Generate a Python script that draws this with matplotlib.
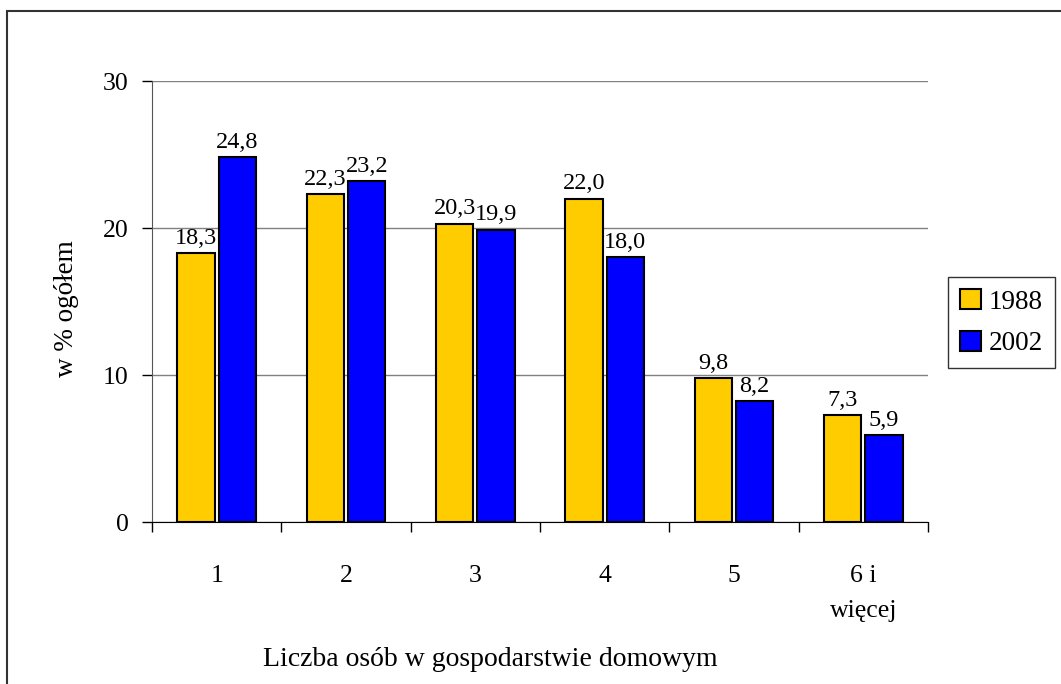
import matplotlib
matplotlib.use("Agg")
import matplotlib.pyplot as plt
import numpy as np
from matplotlib.patches import Rectangle

categories = ['1', '2', '3', '4', '5', '6 i\nwięcej']
y1988 = [18.3, 22.3, 20.3, 22.0, 9.8, 7.3]
y2002 = [24.8, 23.2, 19.9, 18.0, 8.2, 5.9]
labels1988 = ['18,3', '22,3', '20,3', '22,0', '9,8', '7,3']
labels2002 = ['24,8', '23,2', '19,9', '18,0', '8,2', '5,9']

plt.rcParams['font.family'] = ['Liberation Serif', 'DejaVu Serif']
fs = 18.5

fig = plt.figure(figsize=(10.61, 6.84), dpi=100)
ax = fig.add_axes([0.1433, 0.2368, 0.7313, 0.6447])

x = np.arange(len(categories))
w = 0.29
b1 = ax.bar(x - 0.16, y1988, w, color='#FFCC00', edgecolor='black', linewidth=1.5, label='1988', zorder=3)
b2 = ax.bar(x + 0.16, y2002, w, color='#0000FF', edgecolor='black', linewidth=1.5, label='2002', zorder=3)

# etykiety wartości nad słupkami
for rect, t in zip(b1, labels1988):
    ax.annotate(t, (rect.get_x() + rect.get_width() / 2, rect.get_height()),
                xytext=(0, 3), textcoords='offset points', ha='center', va='bottom', fontsize=17.5)
for rect, t in zip(b2, labels2002):
    ax.annotate(t, (rect.get_x() + rect.get_width() / 2, rect.get_height()),
                xytext=(0, 3), textcoords='offset points', ha='center', va='bottom', fontsize=17.5)

ax.set_xlim(-0.5, 5.5)
ax.set_ylim(0, 30)
ax.set_yticks([0, 10, 20, 30])
ax.set_xticks(np.arange(-0.5, 6, 1))
ax.set_xticklabels([])
ax.set_xticks(x, minor=True)
ax.set_xticklabels(categories, minor=True, fontsize=fs, linespacing=1.75)
ax.tick_params(axis='x', which='minor', length=0, pad=31)
ax.tick_params(axis='x', which='major', length=7, direction='out', width=1)
ax.tick_params(axis='y', length=7, direction='out', width=1, labelsize=fs, pad=10)

ax.grid(axis='y', color='#808080', linewidth=1, zorder=0)
ax.spines['top'].set_visible(False)
ax.spines['right'].set_visible(False)
ax.spines['left'].set_color('#555555')
ax.spines['bottom'].set_color('black')

ax.set_ylabel('w % ogółem', fontsize=fs + 1)
ax.yaxis.set_label_coords(-0.094, 0.483)
ax.set_xlabel('Liczba osób w gospodarstwie domowym', fontsize=fs + 1.5)
ax.xaxis.set_label_coords(0.436, -0.284)

leg = ax.legend(loc='center left', bbox_to_anchor=(1.026, 0.452), fontsize=fs + 1,
                frameon=True, fancybox=False, edgecolor='black', handlelength=0.75,
                handleheight=0.75, handletextpad=0.3, borderpad=0.45, labelspacing=0.6,
                borderaxespad=0)
leg.get_frame().set_linewidth(1)

fig.patches.append(Rectangle((0.0066, -0.1), 1.1, 1.084, transform=fig.transFigure,
                             fill=False, edgecolor='#333333', linewidth=1.5))

fig.savefig('out.png', dpi=100)
